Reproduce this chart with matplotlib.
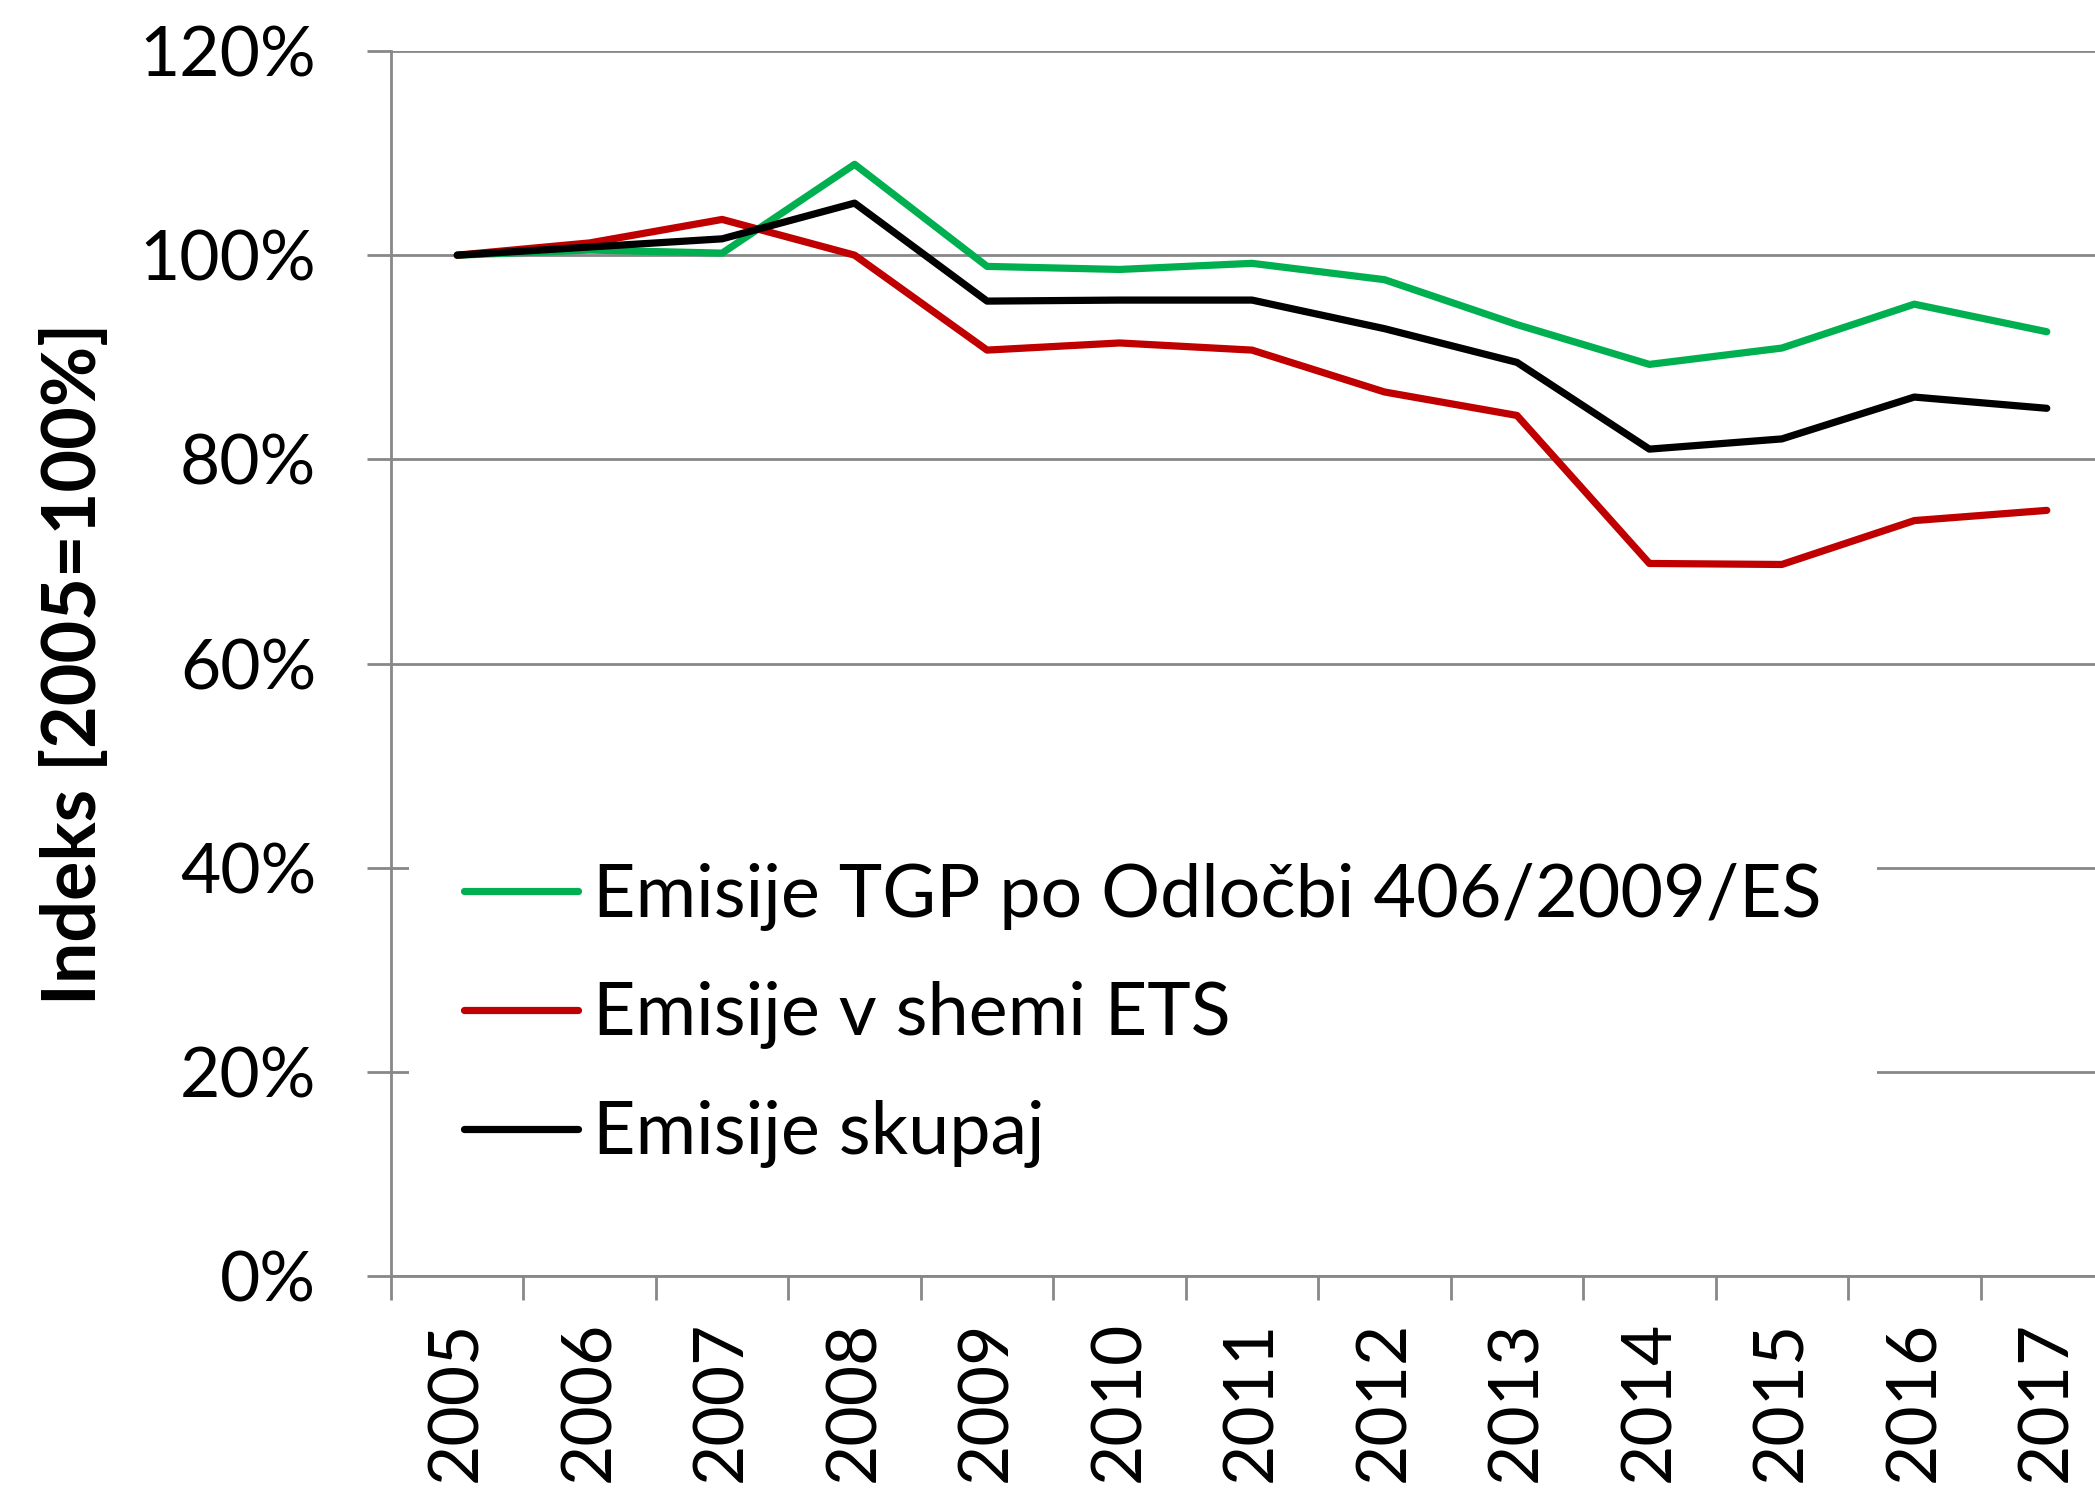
import numpy as np
import matplotlib.pyplot as plt

plt.rcParams['font.family'] = ['Lato', 'DejaVu Sans']

years = ['2005', '2006', '2007', '2008', '2009', '2010', '2011',
         '2012', '2013', '2014', '2015', '2016', '2017']
esd = [100.0, 100.5, 100.2, 108.9, 98.9, 98.6, 99.2, 97.6, 93.2, 89.3, 90.9, 95.2, 92.5]  # Odločba 406/2009/ES
ets = [100.0, 101.2, 103.5, 100.0, 90.7, 91.4, 90.7, 86.6, 84.3, 69.8, 69.7, 74.0, 75.0]  # shema ETS
total = [100.0, 100.8, 101.6, 105.1, 95.5, 95.6, 95.6, 92.8, 89.5, 81.0, 82.0, 86.1, 85.0]  # skupaj
labels = ['Emisije TGP po Odločbi 406/2009/ES', 'Emisije v shemi ETS', 'Emisije skupaj']
yticks = [0, 20, 40, 60, 80, 100, 120]

fig = plt.figure(figsize=(20.95, 14.98), dpi=100)
ax = fig.add_axes([391/2095, 1 - 1276/1498, 1722/2095, 1225/1498])

x = np.arange(len(years))
ax.plot(x, esd, color='#00B050', lw=5.2, solid_capstyle='round', label=labels[0])
ax.plot(x, ets, color='#C00000', lw=5.2, solid_capstyle='round', label=labels[1])
ax.plot(x, total, color='black', lw=5.2, solid_capstyle='round', label=labels[2])

ax.set_xlim(-0.5, len(years) - 0.5)
ax.set_ylim(0, 120)
ax.set_yticks(yticks)
ax.set_yticklabels([f'{t}%' for t in yticks])
ax.set_xticks(x)
ax.set_xticklabels(years, rotation=90)
ax.set_xticks(np.arange(len(years)) - 0.5, minor=True)
ax.tick_params(axis='x', which='major', length=0, pad=32, labelsize=50)
ax.tick_params(axis='x', which='minor', length=17, width=2, color='#888888', direction='out')
ax.tick_params(axis='y', length=17, width=2, color='#888888', pad=37, labelsize=50)

ax.grid(axis='y', color='#888888', lw=2)
ax.set_axisbelow(True)
for s in ['top', 'right']:
    ax.spines[s].set_visible(False)
for s in ['left', 'bottom']:
    ax.spines[s].set_color('#888888')
    ax.spines[s].set_linewidth(2)

ax.set_ylabel('Indeks [2005=100%]', fontsize=53, fontweight='bold')
ax.yaxis.set_label_coords(-0.164, 0.5)

leg = ax.legend(loc='upper left', bbox_to_anchor=(-0.011, 0.4125), fontsize=53,
                frameon=True, facecolor='white', edgecolor='none', framealpha=1,
                handlelength=1.55, handletextpad=0.2, labelspacing=0.69,
                borderpad=0.75, fancybox=False)

fig.savefig('out.png', dpi=100)
